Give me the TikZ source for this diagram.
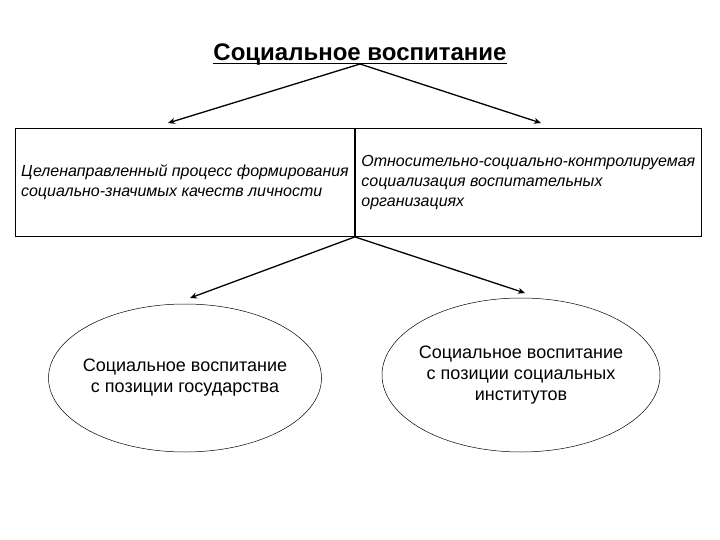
\documentclass[tikz,border=0pt]{standalone}
\usepackage{fontspec}
\setmainfont{Liberation Sans}
\usepackage{tikz}
\usetikzlibrary{
    arrows.meta,
    shapes.geometric,
    positioning
}

\tikzset{
    cell/.style={draw,line width=0.9pt,minimum height=108pt,inner sep=0pt,
        align=left,font=\fontsize{16}{20}\selectfont\itshape},
    oval/.style={ellipse,draw,line width=0.5pt,inner xsep=-12pt,inner ysep=0pt,
        align=center,font=\fontsize{18}{21}\selectfont},
    link/.style={line width=1.3pt,-{Stealth[length=7pt,width=6pt]}}
}

\begin{document}
\begin{tikzpicture}[x=1pt,y=-1pt]
\useasboundingbox (0,0) rectangle (720,540);

% Title with its rule
\node[font=\fontsize{24}{26}\selectfont\bfseries,inner sep=0pt,anchor=base] (title) at (360,61)
    {Социальное воспитание};
\coordinate (rule) at ([yshift=-3pt]title.base);
\draw[line width=1pt] ([yshift=-3pt]title.base west) -- ([yshift=-3pt]title.base east);

% Two cells of the box
\node[cell,minimum width=339pt,anchor=north west] (leftcell) at (15,128)
    {Целенаправленный процесс формирования\\социально-значимых качеств личности};
\node[cell,minimum width=346pt,anchor=north west] (rightcell) at (leftcell.north east)
    {Относительно-социально-контролируемая\\социализация воспитательных\\организациях};

% Ovals
\node[oval,minimum width=273pt,minimum height=148pt] (state) at (185,378)
    {Социальное воспитание\\с позиции государства};
\node[oval,minimum width=278pt,minimum height=154pt] (inst) at (521,375)
    {Социальное воспитание\\с позиции социальных\\институтов};

% Arrow ends
\coordinate (topL) at (168,123);
\coordinate (topR) at (541,123);
\coordinate (split) at (leftcell.south east);
\coordinate (botL) at (190,298);
\coordinate (botR) at (525,293);

% Arrows
\draw[link] (rule) -- (topL);
\draw[link] (rule) -- (topR);
\draw[link] (split) -- (botL);
\draw[link] (split) -- (botR);

\end{tikzpicture}
\end{document}
